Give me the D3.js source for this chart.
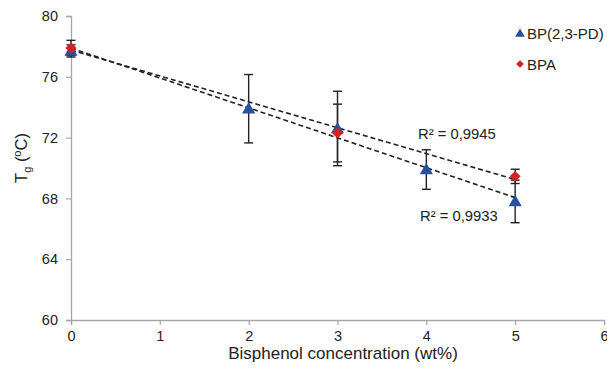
<!DOCTYPE html>
<html><head><meta charset="utf-8">
<script src="https://cdn.jsdelivr.net/npm/d3@7"></script>
<style>
body{margin:0;background:#fff;}
text{font-family:"Liberation Sans",Arial,sans-serif;}
</style></head>
<body><svg id="c" width="607" height="373"></svg>
<script>
const bpX = [0, 2, 3, 4, 5];
const bpY = [77.7, 73.9, 72.6, 69.9, 67.8];
const bpErr = [0.4, 2.25, 2.45, 1.3, 1.4];
const bpaX = [0, 3, 5];
const bpaY = [77.9, 72.3, 69.45];
const bpaErr = [0.5, 1.9, 0.47];
const xTicks = [0, 1, 2, 3, 4, 5, 6];
const yTicks = [60, 64, 68, 72, 76, 80];
const r2Labels = ["R² = 0,9945", "R² = 0,9933"];
const legendNames = ["BP(2,3-PD)", "BPA"];

const svg = d3.select("#c");
const x = d3.scaleLinear().domain([0, 6]).range([71, 604]);
const y = d3.scaleLinear().domain([60, 80]).range([320, 16]);
const blue = "#27509e", red = "#d42121", axisCol = "#a6a6a6";

// axes
const xa = svg.append("g").attr("transform", `translate(0,${y(60)})`)
  .call(d3.axisBottom(x).tickValues(xTicks).tickSize(5).tickPadding(6).tickFormat(d3.format("d")));
const ya = svg.append("g").attr("transform", `translate(${x(0)},0)`)
  .call(d3.axisLeft(y).tickValues(yTicks).tickSize(5).tickPadding(8).tickFormat(d3.format("d")));
[xa, ya].forEach(g => {
  g.select(".domain").attr("stroke", axisCol).attr("stroke-width", 1.3);
  g.selectAll(".tick line").attr("stroke", axisCol).attr("stroke-width", 1.2);
  g.selectAll(".tick text").attr("fill", "#222").style("font-size", "14.5px").style("font-family", "Liberation Sans, Arial, sans-serif");
});

// trend lines (least squares)
function fit(xs, ys) {
  const n = xs.length, mx = d3.mean(xs), my = d3.mean(ys);
  let sxy = 0, sxx = 0;
  for (let i = 0; i < n; i++) { sxy += (xs[i]-mx)*(ys[i]-my); sxx += (xs[i]-mx)**2; }
  const b = sxy / sxx; return [my - b*mx, b];
}
[[bpX, bpY], [bpaX, bpaY]].forEach(([xs, ys]) => {
  const [a, b] = fit(xs, ys);
  svg.append("line").attr("x1", x(0)).attr("y1", y(a)).attr("x2", x(5)).attr("y2", y(a + 5*b))
    .attr("stroke", "#222").attr("stroke-width", 1.6).attr("stroke-dasharray", "5,3");
});

// error bars
function errBars(xs, ys, es) {
  xs.forEach((xv, i) => {
    const g = svg.append("g").attr("stroke", "#222").attr("stroke-width", 1.4);
    g.append("line").attr("x1", x(xv)).attr("x2", x(xv)).attr("y1", y(ys[i]-es[i])).attr("y2", y(ys[i]+es[i]));
    [ys[i]-es[i], ys[i]+es[i]].forEach(v => g.append("line").attr("x1", x(xv)-4.5).attr("x2", x(xv)+4.5).attr("y1", y(v)).attr("y2", y(v)));
  });
}
errBars(bpX, bpY, bpErr);
errBars(bpaX, bpaY, bpaErr);

const tri = d3.symbol().type(d3.symbolTriangle).size(75);
const dia = d3.symbol().type(d3.symbolSquare).size(60);
svg.append("g").selectAll("path").data(bpX).join("path")
  .attr("d", tri).attr("fill", blue)
  .attr("transform", (d, i) => `translate(${x(d)},${y(bpY[i])+1})`);
svg.append("g").selectAll("path").data(bpaX).join("path")
  .attr("d", dia).attr("fill", red)
  .attr("transform", (d, i) => `translate(${x(d)},${y(bpaY[i])}) rotate(45)`);

// R² labels
svg.append("text").attr("x", 418).attr("y", 138.5).attr("fill", "#222").style("font-size", "14.8px").text(r2Labels[0]);
svg.append("text").attr("x", 420).attr("y", 220.5).attr("fill", "#222").style("font-size", "14.8px").text(r2Labels[1]);

// legend
svg.append("path").attr("d", d3.symbol().type(d3.symbolTriangle).size(40)).attr("fill", blue).attr("transform", "translate(520,34)");
svg.append("text").attr("x", 527).attr("y", 39).attr("fill", "#222").style("font-size", "15px").text(legendNames[0]);
svg.append("path").attr("d", d3.symbol().type(d3.symbolSquare).size(30)).attr("fill", red).attr("transform", "translate(520,64) rotate(45)");
svg.append("text").attr("x", 527).attr("y", 69.5).attr("fill", "#222").style("font-size", "15px").text(legendNames[1]);

// axis titles
svg.append("text").attr("x", 343).attr("y", 359).attr("text-anchor", "middle").attr("fill", "#222")
  .style("font-size", "17px").text("Bisphenol concentration (wt%)");
const yt = svg.append("text").attr("transform", "translate(27,158) rotate(-90)").attr("text-anchor", "middle")
  .attr("fill", "#222").style("font-size", "16.5px");
yt.append("tspan").text("T");
yt.append("tspan").attr("dy", 4).style("font-size", "11px").text("g");
yt.append("tspan").attr("dy", -4).text(" (");
yt.append("tspan").attr("dy", -6).style("font-size", "11px").text("o");
yt.append("tspan").attr("dy", 6).text("C)");
</script></body></html>
